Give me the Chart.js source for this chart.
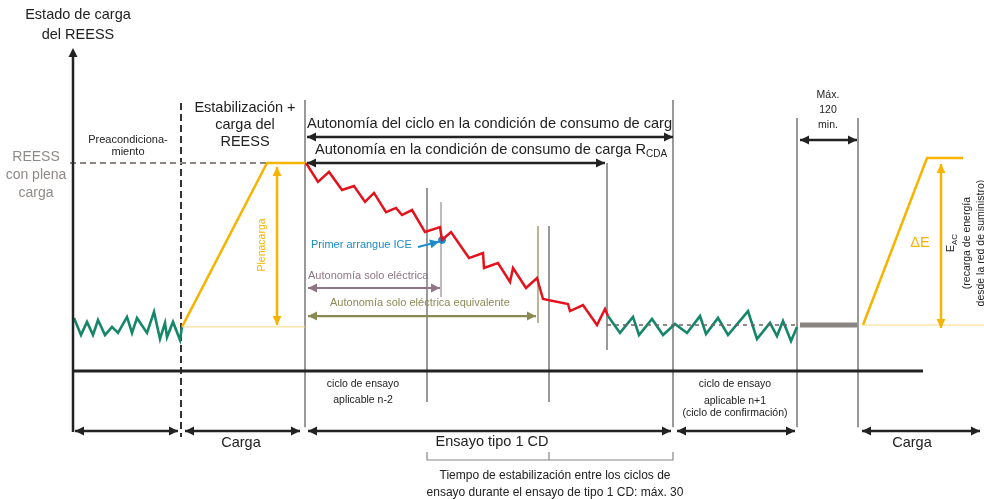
<!DOCTYPE html>
<html>
<head>
<meta charset="utf-8">
<script src="https://cdn.jsdelivr.net/npm/chart.js@4/dist/chart.umd.min.js"></script>
<style>
  html, body { margin: 0; padding: 0; background: #fff; }
  #wrap { width: 984px; height: 499px; }
</style>
</head>
<body>
<div id="wrap"><canvas id="chart"></canvas></div>
<script>
// tiempo en unidades arbitrarias (0 = eje vertical), estado de carga en % de plena carga
const precondT   = [1, 8, 14, 20, 25, 32, 39, 45, 54, 59, 64, 74, 81, 87, 92, 94, 100, 107, 109];
const precondSOC = [25.5, 17.3, 23.6, 17.3, 24.5, 17.3, 21.2, 18.3, 26, 18.3, 25.5, 18.3, 28.4, 15.4, 23.1, 16.3, 23.6, 14.9, 21.2];

const charge1T   = [109, 194, 232];
const charge1SOC = [21.2, 100, 100];

const cdT   = [233, 245, 256, 269, 281, 292, 301, 313, 323, 329, 339, 352, 367, 369, 378, 396, 410, 411, 425, 437, 440, 453, 464, 470, 495, 497, 510, 524, 532, 535];
const cdSOC = [100, 90.9, 95.7, 87, 88.9, 81.3, 85.6, 76.4, 78.4, 75, 77.4, 66.8, 69.2, 63, 66.8, 54.3, 56.7, 49.5, 51.9, 42.8, 49.5, 39.9, 44.7, 34.6, 32.2, 28.8, 31.7, 22.1, 29.8, 26.4];

const csT   = [535, 547, 560, 566, 579, 590, 602, 614, 627, 633, 645, 655, 675, 684, 697, 704, 710, 718, 724];
const csSOC = [26.4, 18.3, 26, 17.3, 25, 17.3, 22.6, 18.3, 26.4, 17.8, 25.5, 17.3, 28.8, 15.4, 23.1, 16.8, 24, 14.4, 21.2];

const charge2T   = [790, 854, 890];
const charge2SOC = [22.1, 102.4, 102.4];

const fullSOC = 100;          // REESS con plena carga
const endSOC = 22.1;          // nivel al final del ensayo
const iceStart = [369, 63];   // primer arranque ICE

// límites de fases (tiempo)
const tPrecondEnd = 108;
const tCdStart = 232;
const tCycleN2 = [354, 476];
const tElecRange = 368;
const tElecEquiv = 465;
const tRcda = 534;
const tCdEnd = 600;
const tConfEnd = 724;
const tSoakEnd = 785;

const pts = (t, s) => t.map((v, i) => ({ x: v, y: s[i] }));

const FONT = '"Liberation Sans", Arial, sans-serif';
const GREEN = '#15866a', YELLOW = '#f6b400', RED = '#e3121c', BLUE = '#1a8bcb';
const MAUVE = '#8f7585', OLIVE = '#8b8a55', DARK = '#222';

const diagram = {
  id: 'diagram',
  beforeDatasetsDraw(chart) {
    const { ctx, scales: { x, y } } = chart;
    const X = v => x.getPixelForValue(v), Y = v => y.getPixelForValue(v);
    const vline = (t, s1, s2, color, w, dash) => {
      ctx.save();
      ctx.strokeStyle = color; ctx.lineWidth = w; ctx.setLineDash(dash || []);
      ctx.beginPath(); ctx.moveTo(X(t), Y(s1)); ctx.lineTo(X(t), Y(s2)); ctx.stroke();
      ctx.restore();
    };
    vline(tPrecondEnd, 128.8, -31.7, '#333', 2, [7, 4]);
    vline(tCdStart, 130.3, -27, '#555', 1.2);
    vline(tCycleN2[0], 88, -14.9, '#555', 1.2);
    vline(tElecRange, 81.3, 35.6, '#9c8794', 1.2);
    vline(tElecEquiv, 69.7, 23.1, '#aaa57c', 1.6);
    vline(tCycleN2[1], 69.7, -14.9, '#555', 1.2);
    vline(tRcda, fullSOC, 10.1, '#555', 1.2);
    vline(tCdEnd, 130.3, -27, '#555', 1.2);
    vline(tConfEnd, 121.6, -27, '#555', 1.2);
    vline(tSoakEnd, 121.6, -27, '#555', 1.2);
  },
  afterDatasetsDraw(chart) {
    const { ctx, scales: { x, y } } = chart;
    const X = v => x.getPixelForValue(v), Y = v => y.getPixelForValue(v);

    const head = (x1, y1, x2, y2, color) => {
      const a = Math.atan2(y2 - y1, x2 - x1), L = 9, W = 4.5;
      ctx.fillStyle = color;
      ctx.beginPath();
      ctx.moveTo(x2, y2);
      ctx.lineTo(x2 - L * Math.cos(a) + W * Math.sin(a), y2 - L * Math.sin(a) - W * Math.cos(a));
      ctx.lineTo(x2 - L * Math.cos(a) - W * Math.sin(a), y2 - L * Math.sin(a) + W * Math.cos(a));
      ctx.closePath(); ctx.fill();
    };
    const arrow = (t1, s1, t2, s2, color, w, both = true) => {
      const x1 = X(t1), y1 = Y(s1), x2 = X(t2), y2 = Y(s2);
      ctx.save();
      ctx.strokeStyle = color; ctx.lineWidth = w;
      ctx.beginPath(); ctx.moveTo(x1, y1); ctx.lineTo(x2, y2); ctx.stroke();
      head(x1, y1, x2, y2, color);
      if (both) head(x2, y2, x1, y1, color);
      ctx.restore();
    };
    const text = (str, t, s, size, color, align = 'center', rot = 0) => {
      ctx.save();
      ctx.font = size + 'px ' + FONT;
      ctx.fillStyle = color; ctx.textAlign = align; ctx.textBaseline = 'middle';
      ctx.translate(X(t), Y(s)); ctx.rotate(rot);
      ctx.fillText(str, 0, 0);
      ctx.restore();
    };

    // ejes
    ctx.save();
    ctx.strokeStyle = DARK; ctx.lineWidth = 2.5;
    ctx.beginPath(); ctx.moveTo(X(0), Y(-29.3)); ctx.lineTo(X(0), Y(151)); ctx.stroke();
    head(X(0), Y(0), X(0), Y(155.3), DARK);
    ctx.lineWidth = 3;
    ctx.beginPath(); ctx.moveTo(X(0), Y(0)); ctx.lineTo(X(850), Y(0)); ctx.stroke();
    ctx.restore();

    text('Estado de carga', 5, 171.2, 14.5, DARK);
    text('del REESS', 5, 161.5, 14.5, DARK);

    text('REESS', -37, 102.9, 14, '#8f8a87');
    text('con plena', -37, 94.2, 14, '#8f8a87');
    text('carga', -37, 85.6, 14, '#8f8a87');

    text('Preacondiciona-', 55, 111.1, 11, DARK);
    text('miento', 55, 105.3, 11, DARK);

    text('Estabilización +', 172, 126.4, 14.5, DARK);
    text('carga del', 172, 118.3, 14.5, DARK);
    text('REESS', 172, 110.1, 14.5, DARK);

    text('Plenacarga', 189, 60.6, 10.5, YELLOW, 'center', -Math.PI / 2);
    arrow(204, 98.1, 204, 22.1, YELLOW, 2.5);

    text('Autonomía del ciclo en la condición de consumo de carg', 234, 118.8, 14.6, DARK, 'left');
    arrow(234, 112.5, tCdEnd, 112.5, DARK, 2.5);

    const rTxt = 'Autonomía en la condición de consumo de carga R';
    text(rTxt, 242, 106.3, 14.6, DARK, 'left');
    ctx.save(); ctx.font = '14.6px ' + FONT;
    const rw = ctx.measureText(rTxt).width; ctx.restore();
    ctx.save(); ctx.font = '10px ' + FONT; ctx.fillStyle = DARK; ctx.textBaseline = 'middle';
    ctx.fillText('CDA', X(242) + rw, Y(104.3)); ctx.restore();
    arrow(234, fullSOC, 532, fullSOC, DARK, 2.5);

    text('Primer arrangue ICE', 238, 60.6, 11, BLUE, 'left');
    arrow(345, 59.6, 366, 62.2, BLUE, 2, false);

    text('Autonomía solo eléctrica', 235, 45.7, 11, MAUVE, 'left');
    arrow(235, 39.9, 367, 39.9, MAUVE, 2.2);
    text('Autonomía solo eléctrica equivalente', 257, 32.7, 11, OLIVE, 'left');
    arrow(235, 26.4, 463, 26.4, OLIVE, 2.2);

    text('Máx.', 755, 132.7, 10.5, DARK);
    text('120', 755, 125.5, 10.5, DARK);
    text('min.', 755, 118.3, 10.5, DARK);
    arrow(727, 111.1, 784, 111.1, DARK, 2.5);

    text('ΔE', 847, 61.5, 14.5, YELLOW);
    arrow(868, 99.5, 868, 20.7, YELLOW, 2.5);
    // E_AC girado
    ctx.save();
    ctx.translate(X(878), Y(61.5)); ctx.rotate(-Math.PI / 2);
    ctx.fillStyle = DARK; ctx.textBaseline = 'middle';
    ctx.font = '11px ' + FONT;
    const ew = ctx.measureText('E').width;
    ctx.font = '8px ' + FONT;
    const aw = ctx.measureText('AC').width;
    ctx.font = '11px ' + FONT; ctx.textAlign = 'left';
    ctx.fillText('E', -(ew + aw) / 2, 0);
    ctx.font = '8px ' + FONT;
    ctx.fillText('AC', -(ew + aw) / 2 + ew, 4);
    ctx.restore();
    text('(recarga de energía', 894, 61.5, 10.5, DARK, 'center', -Math.PI / 2);
    text('desde la red de suministro)', 908, 61.5, 10.5, DARK, 'center', -Math.PI / 2);

    text('ciclo de ensayo', 290, -6.3, 10.5, DARK);
    text('aplicable n-2', 290, -13.9, 10.5, DARK);
    text('ciclo de ensayo', 662, -6.3, 10.5, DARK);
    text('aplicable n+1', 662, -14.4, 10.5, DARK);
    text('(ciclo de confirmación)', 662, -20.2, 10.5, DARK);

    [[2, 105], [112, 227], [235, 598], [604, 722], [789, 907]].forEach(([a, b]) => arrow(a, -28.8, b, -28.8, DARK, 2.5));

    text('Carga', 168, -34.6, 14.5, DARK);
    text('Ensayo tipo 1 CD', 419, -34.1, 14.5, DARK);
    text('Carga', 839, -34.6, 14.5, DARK);

    // corchete del tiempo de estabilización
    ctx.save();
    ctx.strokeStyle = '#888'; ctx.lineWidth = 1.2;
    ctx.beginPath();
    ctx.moveTo(X(tCycleN2[0]), Y(-38.9)); ctx.lineTo(X(tCycleN2[0]), Y(-42.8));
    ctx.lineTo(X(tCdEnd), Y(-42.8)); ctx.lineTo(X(tCdEnd), Y(-38.9));
    ctx.moveTo(X(tCycleN2[1]), Y(-38.9)); ctx.lineTo(X(tCycleN2[1]), Y(-42.8));
    ctx.stroke();
    ctx.restore();
    text('Tiempo de estabilización entre los ciclos de', 482, -50.5, 12, DARK);
    text('ensayo durante el ensayo de tipo 1 CD: máx. 30', 482, -58.7, 12, DARK);
  }
};

const flat = (t1, t2, s) => [{ x: t1, y: s }, { x: t2, y: s }];

new Chart(document.getElementById('chart').getContext('2d'), {
  type: 'line',
  data: {
    datasets: [
      { data: flat(-3, 194, fullSOC), borderColor: '#8c8480', borderWidth: 2, borderDash: [6, 4] },
      { data: flat(109, 232, 21.2), borderColor: '#fcd986', borderWidth: 1 },
      { data: flat(790, 911, endSOC), borderColor: '#fcd986', borderWidth: 1 },
      { data: flat(534, 724, endSOC), borderColor: '#6e6560', borderWidth: 1.5, borderDash: [4, 4] },
      { data: flat(727, 784, endSOC), borderColor: '#8a8583', borderWidth: 5 },
      { data: pts(precondT, precondSOC), borderColor: GREEN, borderWidth: 2.6 },
      { data: pts(charge1T, charge1SOC), borderColor: YELLOW, borderWidth: 2.5 },
      { data: pts(cdT, cdSOC), borderColor: RED, borderWidth: 2.5 },
      { data: pts(csT, csSOC), borderColor: GREEN, borderWidth: 2.6 },
      { data: pts(charge2T, charge2SOC), borderColor: YELLOW, borderWidth: 2.5 },
      { data: [{ x: iceStart[0], y: iceStart[1] }], borderColor: BLUE, backgroundColor: BLUE, pointRadius: 3.5, showLine: false }
    ]
  },
  options: {
    responsive: true,
    maintainAspectRatio: false,
    animation: false,
    layout: { padding: 0, autoPadding: false },
    elements: { point: { radius: 0 }, line: { tension: 0, borderJoinStyle: 'miter' } },
    plugins: { legend: { display: false }, tooltip: { enabled: false } },
    scales: {
      x: { type: 'linear', min: -73, max: 911, display: false },
      y: { type: 'linear', min: -61.54, max: 178.37, display: false }
    }
  },
  plugins: [diagram]
});
</script>
</body>
</html>
